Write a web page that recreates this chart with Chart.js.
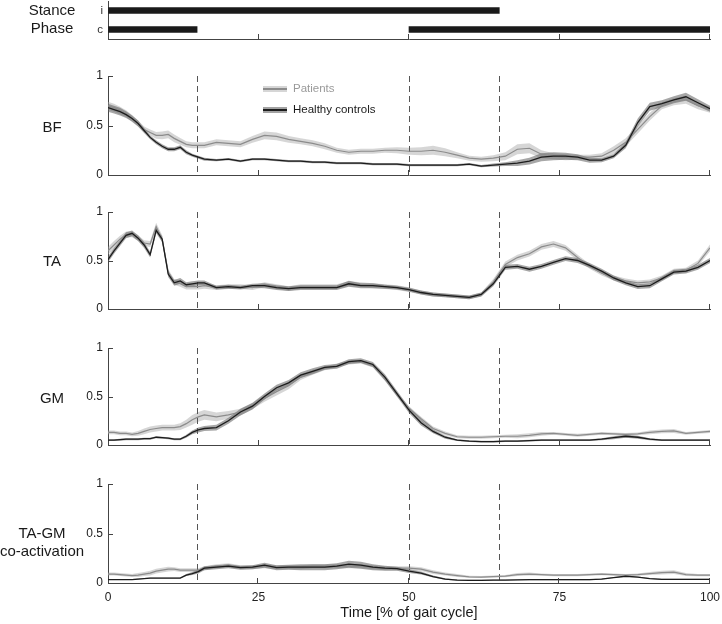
<!DOCTYPE html>
<html lang="en">
<head>
  <meta charset="UTF-8">
  <title>Muscle activity over the gait cycle</title>
  <script src="https://cdn.jsdelivr.net/npm/chart.js"></script>
  <style>
    body {
      margin: 0;
      background: #ffffff;
      font-family: 'Liberation Sans', Arial, Helvetica, sans-serif;
    }
    #wrap {
      position: relative;
      width: 722px;
      height: 624px;
      overflow: hidden;
    }
    .box {
      position: absolute;
      left: 0;
      width: 722px;
    }
    .lab {
      position: absolute;
      left: 52px;
      transform: translateX(-50%);
      white-space: nowrap;
      text-align: center;
      font-size: 15px;
      line-height: 17px;
      color: #1a1a1a;
    }
    .sw {
      position: absolute;
      left: 263px;
      width: 24px;
      height: 6px;
    }
    .ktxt {
      position: absolute;
      left: 293px;
      font-size: 11.5px;
      line-height: 14px;
    }
  </style>
</head>
<body>
  <div id="wrap">
    <div class="box" style="top:-12px;height:64px"><canvas id="stance"></canvas></div>
    <div class="box" style="top:63px;height:125px"><canvas id="bf"></canvas></div>
    <div class="box" style="top:199px;height:123px"><canvas id="ta"></canvas></div>
    <div class="box" style="top:335px;height:123px"><canvas id="gm"></canvas></div>
    <!-- a bit wider: the "100" label needs room on the right -->
    <div class="box" style="top:471px;height:153px;width:727px"><canvas id="co"></canvas></div>

    <div class="lab" style="top:1px">Stance</div>
    <div class="lab" style="top:19px">Phase</div>
    <div class="lab" style="top:118px">BF</div>
    <div class="lab" style="top:252px">TA</div>
    <div class="lab" style="top:389px">GM</div>
    <div class="lab" style="left:42px;top:524px;line-height:18px">TA-GM<br>co-activation</div>

    <!-- legend -->
    <div class="sw" style="top:86px;background:linear-gradient(#d6d6d6 0 2.5px,#8c8c8c 2.5px 3.7px,#d6d6d6 3.7px)"></div>
    <div class="ktxt" style="top:81px;color:#9a9a9a">Patients</div>
    <div class="sw" style="top:107px;background:linear-gradient(#a3a3a3 0 2.4px,#1c1c1c 2.4px 3.8px,#a3a3a3 3.8px)"></div>
    <div class="ktxt" style="top:101.5px;color:#1a1a1a">Healthy controls</div>
  </div>

  <script>
    // % of gait cycle (finer steps during early stance)
    const cycle = [0, 1, 2, 3, 4, 5, 6, 7, 8, 9, 10, 11, 12, 13, 14, 15, 16,
      18, 20, 22, 24, 26, 28, 30, 32, 34, 36, 38, 40, 42, 44, 46, 48, 50,
      52, 54, 56, 58, 60, 62, 64, 66, 68, 70, 72, 74, 76, 78, 80, 82, 84, 86, 88, 90, 92, 94, 96, 98, 100];

    const cycleTicks = [0, 25, 50, 75, 100];
    const activityTicks = [0, 0.5, 1];
    const gaitEvents = [14.8, 50, 65];

    // stance phases: ipsilateral (i) and contralateral (c)
    const stanceSides = ['i', 'c'];
    const ipsiStance = [[0, 65]];
    const contraStance = [[0, 14.8], [50, 100]];

    // BF
    const bfPatients = [0.70, 0.68, 0.65, 0.62, 0.57, 0.52, 0.46, 0.43, 0.40, 0.40, 0.41, 0.37, 0.34, 0.31, 0.30, 0.30, 0.30,
      0.33, 0.32, 0.31, 0.36, 0.40, 0.39, 0.36, 0.34, 0.32, 0.29, 0.25, 0.23, 0.24, 0.24, 0.25, 0.25, 0.24,
      0.24, 0.25, 0.23, 0.20, 0.17, 0.16, 0.17, 0.19, 0.26, 0.27, 0.21, 0.19, 0.18, 0.18, 0.18, 0.19, 0.25, 0.33, 0.46, 0.59, 0.70, 0.74, 0.76, 0.70, 0.66];
    const bfControls = [0.68, 0.66, 0.64, 0.61, 0.57, 0.52, 0.45, 0.38, 0.33, 0.29, 0.26, 0.26, 0.28, 0.23, 0.20, 0.18, 0.16,
      0.15, 0.16, 0.14, 0.16, 0.16, 0.15, 0.14, 0.14, 0.13, 0.13, 0.12, 0.12, 0.12, 0.11, 0.11, 0.11, 0.10,
      0.10, 0.10, 0.10, 0.10, 0.11, 0.09, 0.10, 0.11, 0.12, 0.14, 0.18, 0.19, 0.19, 0.18, 0.15, 0.15, 0.19, 0.30, 0.53, 0.69, 0.72, 0.76, 0.79, 0.73, 0.67];
    const bfPatientsSd = [0.04, 0.04, 0.04, 0.035, 0.035, 0.03, 0.03, 0.03, 0.035, 0.04, 0.04, 0.04, 0.035, 0.03, 0.03, 0.03, 0.03,
      0.03, 0.03, 0.03, 0.035, 0.04, 0.04, 0.035, 0.03, 0.03, 0.03, 0.025, 0.025, 0.025, 0.025, 0.025, 0.03, 0.035,
      0.04, 0.045, 0.04, 0.03, 0.025, 0.025, 0.03, 0.04, 0.05, 0.05, 0.04, 0.03, 0.03, 0.025, 0.025, 0.03, 0.04, 0.04, 0.04, 0.04, 0.035, 0.035, 0.04, 0.035, 0.03];
    const bfControlsSd = [0.04, 0.04, 0.04, 0.035, 0.03, 0.03, 0.025, 0.02, 0.02, 0.02, 0.02, 0.02, 0.02, 0.02, 0.015, 0.015, 0.015,
      0.012, 0.012, 0.012, 0.012, 0.012, 0.012, 0.012, 0.012, 0.012, 0.012, 0.012, 0.012, 0.012, 0.012, 0.012, 0.012, 0.012,
      0.012, 0.012, 0.012, 0.012, 0.012, 0.012, 0.015, 0.02, 0.03, 0.035, 0.04, 0.04, 0.035, 0.03, 0.025, 0.02, 0.02, 0.03, 0.04, 0.04, 0.035, 0.035, 0.04, 0.035, 0.03];

    // TA
    const taPatients = [0.60, 0.66, 0.72, 0.77, 0.77, 0.73, 0.68, 0.67, 0.85, 0.72, 0.38, 0.28, 0.26, 0.23, 0.23, 0.23, 0.24,
      0.22, 0.23, 0.23, 0.22, 0.25, 0.23, 0.21, 0.23, 0.23, 0.23, 0.23, 0.26, 0.25, 0.24, 0.23, 0.22, 0.20,
      0.17, 0.15, 0.14, 0.13, 0.12, 0.15, 0.28, 0.46, 0.53, 0.57, 0.64, 0.67, 0.63, 0.53, 0.44, 0.37, 0.32, 0.29, 0.27, 0.28, 0.32, 0.39, 0.40, 0.47, 0.63];
    const taControls = [0.51, 0.60, 0.68, 0.76, 0.78, 0.73, 0.66, 0.56, 0.81, 0.72, 0.36, 0.27, 0.29, 0.25, 0.26, 0.27, 0.27,
      0.22, 0.23, 0.22, 0.24, 0.24, 0.22, 0.21, 0.22, 0.22, 0.22, 0.22, 0.26, 0.24, 0.24, 0.23, 0.22, 0.20,
      0.17, 0.15, 0.14, 0.13, 0.12, 0.15, 0.26, 0.43, 0.44, 0.41, 0.44, 0.48, 0.52, 0.50, 0.45, 0.39, 0.32, 0.27, 0.23, 0.24, 0.31, 0.38, 0.39, 0.43, 0.50];
    const taPatientsSd = [0.04, 0.04, 0.035, 0.03, 0.03, 0.03, 0.03, 0.03, 0.04, 0.04, 0.03, 0.03, 0.03, 0.03, 0.03, 0.03, 0.03,
      0.025, 0.025, 0.025, 0.025, 0.025, 0.025, 0.025, 0.025, 0.025, 0.025, 0.025, 0.025, 0.025, 0.025, 0.025, 0.025, 0.025,
      0.02, 0.02, 0.02, 0.02, 0.02, 0.02, 0.03, 0.03, 0.03, 0.03, 0.03, 0.03, 0.03, 0.03, 0.025, 0.025, 0.025, 0.025, 0.025, 0.025, 0.025, 0.025, 0.025, 0.03, 0.035];
    const taControlsSd = [0.03, 0.03, 0.03, 0.03, 0.03, 0.03, 0.03, 0.03, 0.03, 0.03, 0.03, 0.03, 0.03, 0.025, 0.025, 0.025, 0.025,
      0.02, 0.02, 0.02, 0.02, 0.025, 0.025, 0.025, 0.025, 0.025, 0.025, 0.025, 0.03, 0.025, 0.025, 0.02, 0.02, 0.02,
      0.02, 0.02, 0.02, 0.02, 0.02, 0.02, 0.025, 0.025, 0.025, 0.025, 0.025, 0.025, 0.025, 0.025, 0.025, 0.025, 0.025, 0.025, 0.025, 0.025, 0.025, 0.025, 0.025, 0.025, 0.025];

    // GM
    const gmPatients = [0.13, 0.13, 0.12, 0.12, 0.11, 0.12, 0.14, 0.16, 0.17, 0.18, 0.18, 0.18, 0.19, 0.22, 0.26, 0.29, 0.31,
      0.29, 0.31, 0.34, 0.40, 0.48, 0.55, 0.61, 0.70, 0.75, 0.79, 0.82, 0.85, 0.86, 0.82, 0.68, 0.52, 0.38,
      0.27, 0.17, 0.12, 0.085, 0.08, 0.08, 0.085, 0.09, 0.09, 0.10, 0.115, 0.12, 0.11, 0.10, 0.11, 0.12, 0.115, 0.11, 0.115, 0.13, 0.14, 0.145, 0.12, 0.13, 0.14];
    const gmControls = [0.05, 0.05, 0.055, 0.06, 0.06, 0.06, 0.065, 0.065, 0.08, 0.075, 0.07, 0.06, 0.06, 0.09, 0.13, 0.155, 0.17,
      0.18, 0.25, 0.34, 0.40, 0.50, 0.59, 0.64, 0.72, 0.76, 0.80, 0.81, 0.86, 0.87, 0.83, 0.70, 0.53, 0.36,
      0.23, 0.14, 0.08, 0.05, 0.04, 0.035, 0.035, 0.04, 0.04, 0.045, 0.05, 0.05, 0.05, 0.05, 0.05, 0.06, 0.075, 0.09, 0.08, 0.06, 0.05, 0.05, 0.05, 0.05, 0.05];
    const gmPatientsSd = [0.02, 0.02, 0.02, 0.02, 0.02, 0.025, 0.03, 0.03, 0.03, 0.03, 0.03, 0.03, 0.035, 0.04, 0.05, 0.05, 0.05,
      0.045, 0.04, 0.035, 0.03, 0.035, 0.04, 0.035, 0.03, 0.025, 0.02, 0.02, 0.02, 0.02, 0.02, 0.02, 0.02, 0.02,
      0.02, 0.02, 0.02, 0.015, 0.015, 0.015, 0.015, 0.015, 0.02, 0.02, 0.02, 0.015, 0.015, 0.015, 0.015, 0.015, 0.015, 0.015, 0.015, 0.02, 0.02, 0.02, 0.015, 0.015, 0.015];
    const gmControlsSd = [0.01, 0.01, 0.01, 0.01, 0.01, 0.01, 0.01, 0.01, 0.01, 0.01, 0.01, 0.01, 0.01, 0.015, 0.02, 0.025, 0.025,
      0.03, 0.03, 0.035, 0.035, 0.03, 0.03, 0.03, 0.03, 0.03, 0.025, 0.025, 0.025, 0.025, 0.025, 0.03, 0.03, 0.03,
      0.03, 0.02, 0.015, 0.01, 0.01, 0.01, 0.01, 0.01, 0.01, 0.01, 0.01, 0.01, 0.01, 0.01, 0.01, 0.01, 0.015, 0.015, 0.015, 0.01, 0.01, 0.01, 0.01, 0.01, 0.01];

    // TA-GM co-activation
    const coPatients = [0.09, 0.09, 0.085, 0.08, 0.075, 0.08, 0.09, 0.10, 0.12, 0.13, 0.14, 0.14, 0.13, 0.13, 0.13, 0.13, 0.15,
      0.17, 0.18, 0.16, 0.16, 0.17, 0.16, 0.16, 0.16, 0.17, 0.17, 0.17, 0.17, 0.17, 0.16, 0.15, 0.15, 0.15,
      0.14, 0.11, 0.09, 0.075, 0.062, 0.06, 0.065, 0.07, 0.085, 0.09, 0.085, 0.08, 0.08, 0.08, 0.085, 0.09, 0.085, 0.08, 0.085, 0.095, 0.105, 0.11, 0.085, 0.08, 0.08];
    const coControls = [0.035, 0.035, 0.035, 0.035, 0.035, 0.04, 0.045, 0.05, 0.05, 0.05, 0.05, 0.05, 0.05, 0.08, 0.095, 0.115, 0.15,
      0.16, 0.17, 0.155, 0.16, 0.18, 0.155, 0.16, 0.16, 0.16, 0.16, 0.17, 0.19, 0.18, 0.16, 0.15, 0.145, 0.12,
      0.10, 0.065, 0.04, 0.03, 0.027, 0.027, 0.03, 0.03, 0.032, 0.034, 0.034, 0.034, 0.034, 0.034, 0.034, 0.04, 0.055, 0.068, 0.06, 0.045, 0.037, 0.037, 0.037, 0.037, 0.037];
    const coPatientsSd = [0.015, 0.015, 0.015, 0.015, 0.015, 0.02, 0.02, 0.025, 0.025, 0.025, 0.025, 0.02, 0.02, 0.02, 0.02, 0.02, 0.02,
      0.02, 0.02, 0.02, 0.02, 0.02, 0.02, 0.02, 0.02, 0.02, 0.02, 0.02, 0.02, 0.02, 0.02, 0.02, 0.02, 0.02,
      0.02, 0.02, 0.015, 0.015, 0.01, 0.01, 0.01, 0.012, 0.015, 0.015, 0.012, 0.012, 0.012, 0.012, 0.012, 0.012, 0.012, 0.012, 0.012, 0.015, 0.02, 0.02, 0.015, 0.012, 0.012];
    const coControlsSd = [0.005, 0.005, 0.005, 0.005, 0.005, 0.005, 0.005, 0.005, 0.005, 0.005, 0.005, 0.005, 0.005, 0.01, 0.015, 0.02, 0.02,
      0.02, 0.02, 0.02, 0.02, 0.025, 0.025, 0.025, 0.03, 0.03, 0.03, 0.03, 0.035, 0.035, 0.03, 0.025, 0.02, 0.02,
      0.015, 0.01, 0.008, 0.005, 0.005, 0.005, 0.005, 0.005, 0.005, 0.005, 0.005, 0.005, 0.005, 0.005, 0.005, 0.005, 0.005, 0.005, 0.005, 0.005, 0.005, 0.005, 0.005, 0.005, 0.005];

    Chart.defaults.font.family = "'Liberation Sans', Arial, Helvetica, sans-serif";
    Chart.defaults.color = '#222';

    const AXIS = '#444';

    // short tick marks drawn inside the plot, like the original figure
    const innerTicks = {
      id: 'innerTicks',
      afterDraw(chart) {
        const { ctx, chartArea: a, scales: { x, y } } = chart;
        ctx.save();
        ctx.strokeStyle = AXIS;
        ctx.lineWidth = 1;
        ctx.beginPath();
        cycleTicks.slice(1).forEach(t => {
          const px = Math.round(x.getPixelForValue(t)) - 0.5;
          ctx.moveTo(px, a.bottom);
          ctx.lineTo(px, a.bottom - 5);
        });
        if (y.type === 'linear') {
          activityTicks.slice(1).forEach(v => {
            const py = Math.round(y.getPixelForValue(v)) + 0.5;
            ctx.moveTo(a.left, py);
            ctx.lineTo(a.left + 5, py);
          });
        }
        ctx.stroke();
        ctx.restore();
      }
    };

    // dashed lines at the gait events
    const phaseMarks = {
      id: 'phaseMarks',
      beforeDatasetsDraw(chart) {
        const { ctx, chartArea: a, scales: { x } } = chart;
        ctx.save();
        ctx.strokeStyle = '#555';
        ctx.lineWidth = 1;
        ctx.setLineDash([6, 4]);
        gaitEvents.forEach(t => {
          const px = Math.round(x.getPixelForValue(t)) + 0.5;
          ctx.beginPath();
          ctx.moveTo(px, a.top);
          ctx.lineTo(px, a.bottom);
          ctx.stroke();
        });
        ctx.restore();
      }
    };

    function band(mean, sd, color) {
      return [
        { data: mean.map((v, i) => v + sd[i]), borderColor: 'rgba(0,0,0,0)', borderWidth: 0, pointRadius: 0, fill: '+1', backgroundColor: color },
        { data: mean.map((v, i) => v - sd[i]), borderColor: 'rgba(0,0,0,0)', borderWidth: 0, pointRadius: 0, fill: false }
      ];
    }

    // the y labels need 12px above and below the plot, so boxes are padded by 13px
    function emgChart(id, patients, controls, patientsSd, controlsSd, bottomAxis) {
      new Chart(document.getElementById(id), {
        type: 'line',
        data: {
          labels: cycle,
          datasets: [
            { label: 'Healthy controls', data: controls, borderColor: '#1c1c1c', borderWidth: 1.3, pointRadius: 0, fill: false },
            { label: 'Patients', data: patients, borderColor: '#8c8c8c', borderWidth: 1.2, pointRadius: 0, fill: false },
            ...band(controls, controlsSd, 'rgba(95,95,95,0.55)'),
            ...band(patients, patientsSd, 'rgba(165,165,165,0.45)')
          ]
        },
        options: {
          responsive: true,
          maintainAspectRatio: false,
          animation: false,
          layout: { padding: { top: 13, right: 12, left: 0, bottom: bottomAxis ? 0 : 11 } },
          plugins: {
            legend: { display: false },
            tooltip: { enabled: false },
            filler: { propagate: false, drawTime: 'beforeDatasetsDraw' }
          },
          scales: {
            x: {
              type: 'linear',
              min: 0,
              max: 100,
              grid: { drawOnChartArea: false, drawTicks: false },
              border: { display: true, color: AXIS, width: 1 },
              ticks: { display: bottomAxis, stepSize: 25, padding: 7, font: { size: 12 }, color: '#222' },
              title: {
                display: bottomAxis,
                text: 'Time [% of gait cycle]',
                font: { size: 14.5 },
                color: '#1a1a1a',
                padding: { top: 0, bottom: 2 }
              },
              afterFit: s => { s.height = bottomAxis ? 41 : 2; }
            },
            y: {
              min: 0,
              max: 1,
              grid: { drawOnChartArea: false, drawTicks: false },
              border: { display: true, color: AXIS, width: 1 },
              ticks: { stepSize: 0.5, padding: 5, font: { size: 12 }, color: '#222', callback: v => String(v) },
              afterFit: s => { s.width = 108; }
            }
          }
        },
        plugins: [phaseMarks, innerTicks]
      });
    }

    // stance phase bars
    new Chart(document.getElementById('stance'), {
      type: 'bar',
      data: {
        labels: stanceSides,
        datasets: [
          { data: [ipsiStance[0], contraStance[0]], backgroundColor: '#1a1a1a', barThickness: 6, grouped: false },
          { data: [null, contraStance[1]], backgroundColor: '#1a1a1a', barThickness: 6, grouped: false }
        ]
      },
      options: {
        indexAxis: 'y',
        responsive: true,
        maintainAspectRatio: false,
        animation: false,
        layout: { padding: { top: 13, right: 12, left: 0, bottom: 11 } },
        plugins: { legend: { display: false }, tooltip: { enabled: false } },
        scales: {
          x: {
            type: 'linear',
            min: 0,
            max: 100,
            grid: { drawOnChartArea: false, drawTicks: false },
            border: { display: true, color: AXIS, width: 1 },
            ticks: { display: false },
            afterFit: s => { s.height = 2; }
          },
          y: {
            grid: { drawOnChartArea: false, drawTicks: false },
            border: { display: true, color: AXIS, width: 1 },
            ticks: { padding: 5, font: { size: 11.5 }, color: '#333' },
            afterFit: s => { s.width = 108; }
          }
        }
      },
      plugins: [innerTicks]
    });

    emgChart('bf', bfPatients, bfControls, bfPatientsSd, bfControlsSd, false);
    emgChart('ta', taPatients, taControls, taPatientsSd, taControlsSd, false);
    emgChart('gm', gmPatients, gmControls, gmPatientsSd, gmControlsSd, false);
    emgChart('co', coPatients, coControls, coPatientsSd, coControlsSd, true);
  </script>
</body>
</html>
